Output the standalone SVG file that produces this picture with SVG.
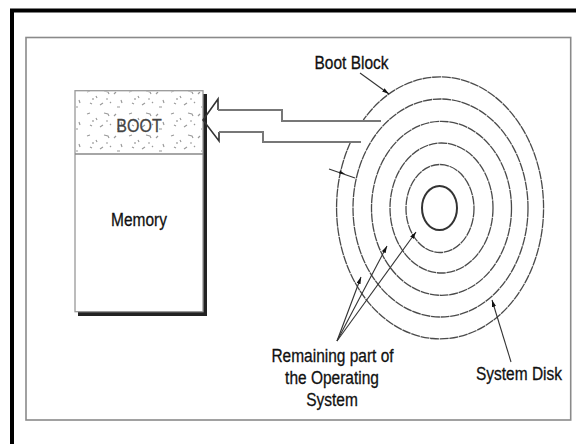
<svg xmlns="http://www.w3.org/2000/svg" width="576" height="444" viewBox="0 0 576 444">
<style>
text{font-family:"Liberation Sans",Arial,sans-serif;fill:#111;stroke:#111;stroke-width:0.25;}
.lbl{font-size:15.5px;text-anchor:middle;}
.ring{fill:none;stroke:#4a4a4a;stroke-width:1.3;stroke-dasharray:9 0.7;}
.ptr{fill:none;stroke:#333;stroke-width:1.1;}
.shaft{fill:none;stroke:#777;stroke-width:2;}
</style>
<defs>
<marker id="ah" viewBox="0 0 10 6" refX="10" refY="3" markerWidth="7" markerHeight="4.5" orient="auto" markerUnits="userSpaceOnUse">
<path d="M0,0 L10,3 L0,6 Z" fill="#111"/>
</marker>
<pattern id="speck" width="42" height="22" patternUnits="userSpaceOnUse">
<path d="M3 4 l3 -1 M12 8 l1 2 M20 3 l4 1 l1 2 M30 6 l2 -2 M37 12 l1 3 M6 15 l2 1 M16 17 l3 -2 M26 14 l1 1 M33 19 l3 0 M9 10 l0 2 M22 11 l2 0" stroke="#9a9a9a" stroke-width="1.2" fill="none"/>
</pattern>
</defs>
<!-- frames -->
<path d="M12 444 V10.5 H576" fill="none" stroke="#000" stroke-width="4"/>
<rect x="26" y="37.5" width="544.7" height="382.5" fill="none" stroke="#8a8a8a" stroke-width="1.6"/>

<g id="memory">
<rect x="78" y="94" width="129" height="222" fill="#222"/>
<rect x="75" y="90.7" width="128" height="221" fill="#fff" stroke="#999" stroke-width="1.3"/>
<rect x="76" y="91.5" width="126" height="62" fill="url(#speck)"/>
<line x1="75" y1="154" x2="203" y2="154" stroke="#888" stroke-width="1.3"/>
<text transform="translate(139 132) scale(1 1.15)" style="font-size:16px;text-anchor:middle;fill:#444;stroke:#444">BOOT</text>
<text transform="translate(139 226) scale(1 1.15)" class="lbl">Memory</text>
</g>

<g id="disk">
<path class="ring" d="M350.6 142 A103.5 131 0 1 0 363.3 120"/>
<ellipse class="ring" cx="440.5" cy="208" rx="87.5" ry="109"/>
<ellipse class="ring" cx="441.5" cy="208.3" rx="70" ry="87"/>
<ellipse class="ring" cx="441.5" cy="208" rx="51.5" ry="65"/>
<ellipse class="ring" cx="440" cy="208.5" rx="34" ry="44"/>
<ellipse cx="439.5" cy="208" rx="17.5" ry="22" fill="none" stroke="#333" stroke-width="2"/>
</g>

<g id="labels">
<text transform="translate(351.5 69) scale(1 1.15)" class="lbl">Boot Block</text>
<text transform="translate(519 380) scale(1 1.15)" class="lbl">System Disk</text>
<text transform="translate(332.5 362) scale(1 1.15)" class="lbl">Remaining part of</text>
<text transform="translate(332 384) scale(1 1.15)" class="lbl">the Operating</text>
<text transform="translate(332 406) scale(1 1.15)" class="lbl">System</text>
</g>

<g id="connectors">
<path d="M218 110 L218 99 L203 120 L219 141 L219 132" fill="none" stroke="#333" stroke-width="1.6"/>
<path class="shaft" d="M218 110 H282 V121 H381"/>
<path class="shaft" d="M219 132 H263 V142 H361"/>
<line class="ptr" x1="360" y1="73" x2="389" y2="94" marker-end="url(#ah)"/>
<line class="ptr" x1="329" y1="169" x2="355" y2="178"/>
<path d="M340 170.5 l5 3.5 l-6 -0.5 z" fill="#111"/>
<line class="ptr" x1="337" y1="341" x2="361" y2="277" marker-end="url(#ah)"/>
<line class="ptr" x1="337" y1="341" x2="387" y2="246" marker-end="url(#ah)"/>
<line class="ptr" x1="337" y1="341" x2="416" y2="232" marker-end="url(#ah)"/>
<line class="ptr" x1="511" y1="362" x2="492" y2="300" marker-end="url(#ah)"/>
</g>
</svg>
